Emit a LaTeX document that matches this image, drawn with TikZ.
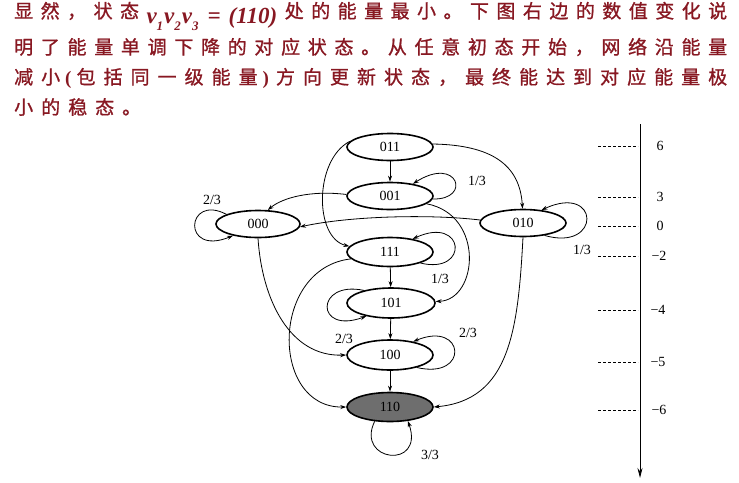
\documentclass[tikz,border=0pt]{standalone}
\usepackage{fontspec}
\setmainfont{Liberation Serif}
\newfontfamily\cjk{Noto Sans CJK SC}[FakeBold=1]
\usetikzlibrary{shapes.geometric,arrows.meta}
\definecolor{txtred}{RGB}{136,24,34}
\definecolor{shade}{RGB}{110,110,110}
\makeatletter
\def\spreadline#1#2{\hbox to #1{\sp@A#2\@nil}}
\def\sp@A#1{#1\sp@B}
\def\sp@B#1{\ifx#1\@nil\else\hfil#1\expandafter\sp@B\fi}
\makeatother
\newcommand{\subdig}[1]{\raisebox{-7pt}{\fontsize{13}{13}\selectfont #1}}
\newcommand{\LA}{\raisebox{-5pt}{\normalfont\bfseries\itshape\fontsize{23}{23}\selectfont
  v\subdig{1}\hspace{1pt}v\subdig{2}\hspace{1pt}v\subdig{3}\hspace{9pt}=\hspace{8pt}(110)}}
\newcommand{\LP}{{\normalfont\bfseries\fontsize{19}{19}\selectfont\kern-3pt(\kern-3pt}}
\newcommand{\RP}{{\normalfont\bfseries\fontsize{19}{19}\selectfont\kern-3pt)\kern-1pt}}
\begin{document}
\begin{tikzpicture}[x=1pt,y=-1pt,
  st/.style={ellipse, draw, line width=1.6pt, minimum width=86pt, minimum height=27pt,
    inner sep=0pt, font=\fontsize{14}{14}\selectfont},
  e/.style={-{Stealth[length=6pt,width=4pt]}, line width=0.8pt},
  lbl/.style={font=\fontsize{14}{14}\selectfont, inner sep=0pt},
  lev/.style={dashed, dash pattern=on 3pt off 2pt, line width=0.8pt},
  cn/.style={anchor=west, inner sep=0pt, text=txtred, font=\cjk\fontsize{19}{19}\selectfont}]
\useasboundingbox (0,0) rectangle (739,482);

% ---- text ----
\node[cn] (t1) at (14,16) {\spreadline{713pt}{显然，状态\LA 处的能量最小。下图右边的数值变化说}};
\node[cn] (t2) at (14,47) {\spreadline{713pt}{明了能量单调下降的对应状态。从任意初态开始，网络沿能量}};
\node[cn] (t3) at (14,78) {\spreadline{713pt}{减小\LP 包括同一级能量\RP 方向更新状态，最终能达到对应能量极}};
\node[cn] (t4) at (14,107) {\spreadline{127pt}{小的稳态。}};

% ---- states ----
\node[st] (n011) at (390,147) {011};
\node[st] (n001) at (390,196) {001};
\node[st, minimum width=84pt] (n000) at (258,224) {000};
\node[st] (n010) at (523,223) {010};
\node[st, minimum height=29pt] (n111) at (390,252) {111};
\node[st, minimum width=88pt, minimum height=30pt] (n101) at (391,303) {101};
\node[st, minimum height=30pt] (n100) at (390,355) {100};
\node[st, minimum height=29pt, fill=shade] (n110) at (390,407) {110};

% ---- straight transitions ----
\draw[e] (n011) -- (n001);
\draw[e] (n111) -- (n101);
\draw[e] (n101) -- (n100);
\draw[e] (n100) -- (n110);

% ---- curved transitions ----
\draw[e] (n001.178) .. controls (310,190) and (282,198) .. (n000.55);
\draw[e] (n010.176) .. controls (430,214) and (350,216) .. (n000.-4);
\draw[e] (n011.172) .. controls (314,160) and (314,238) .. (n111.172);
\draw[e] (n011.4) .. controls (492,145) and (520,165) .. (n010.92);
\draw[e] (n001.-12) .. controls (485,215) and (478,300) .. (n101.2);
\draw[e] (n111.190) .. controls (270,268) and (270,408) .. (n110.180);
\draw[e] (n000.-90) .. controls (262,300) and (290,357) .. (n100.180);
\draw[e] (n010.-90) .. controls (518,330) and (510,400) .. (n110.0);

% ---- self loops ----
\draw[e] (n001.-4) .. controls (472,200) and (458,155) .. (n001.28);
\draw[e] (n000.163) .. controls (186,193) and (181,257) .. (n000.205);
\draw[e] (n111.-20) .. controls (470,275) and (465,215) .. (n111.30);
\draw[e] (n101.155) .. controls (315,280) and (315,335) .. (n101.208);
\draw[e] (n100.-25) .. controls (470,380) and (465,320) .. (n100.30);
\draw[e] (n110.223) .. controls (355,462) and (425,470) .. (n110.322);
\draw[e] (n010.-30) .. controls (602,252) and (600,183) .. (n010.35);

% ---- loop labels ----
\node[lbl] (l001) at (477,181) {1/3};
\node[lbl] (l000) at (212,200) {2/3};
\node[lbl] (l111) at (440,279) {1/3};
\node[lbl] (l101) at (344,339) {2/3};
\node[lbl] (l100) at (468,333) {2/3};
\node[lbl] (l110) at (430,455) {3/3};
\node[lbl] (l010) at (582,250) {1/3};

% ---- energy scale ----
\coordinate (axtop) at (640,124);
\coordinate (axbot) at (640,478);
\draw[line width=0.9pt, -{Stealth[length=10pt,width=5pt]}] (axtop) -- (axbot);
\foreach \yy/\txt/\xx in {146/6/660, 197/3/660, 226/0/660, 256/−2/659, 310/−4/658, 362/−5/658, 410/−6/659}{
  \draw[lev] (598,\yy) -- (638,\yy);
  \node[lbl] at (\xx,\yy) {\txt};
}
\end{tikzpicture}
\end{document}
